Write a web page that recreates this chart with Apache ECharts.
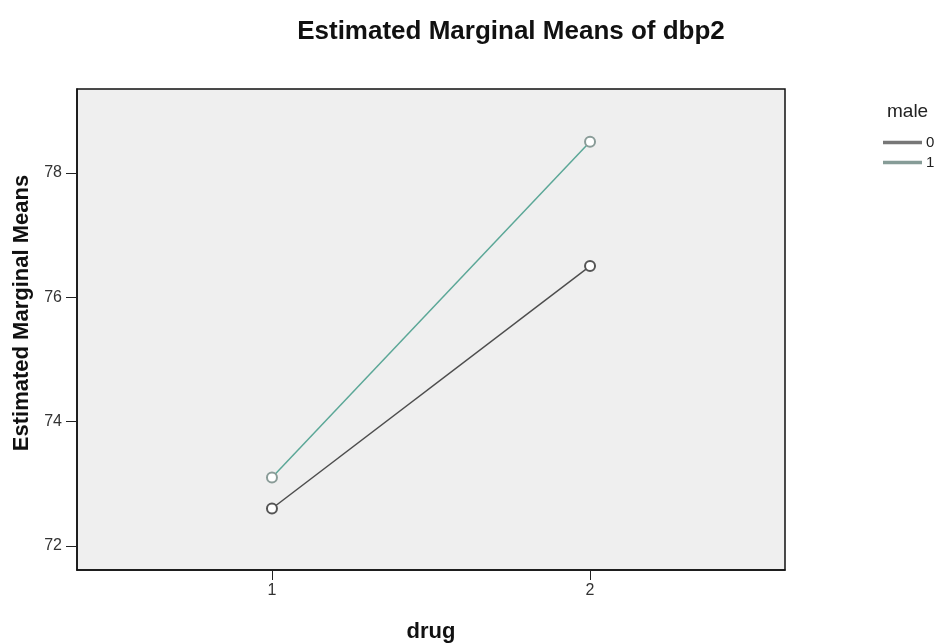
<!DOCTYPE html>
<html>
<head>
<meta charset="utf-8">
<script src="https://cdn.jsdelivr.net/npm/echarts@6/dist/echarts.min.js"></script>
<style>
  html, body { margin: 0; padding: 0; background: #fff; }
  #main { width: 936px; height: 643px; }
</style>
</head>
<body>
<div id="main"></div>
<script>
// data
var drugLevels = [1, 2];
var maleGroups = ['0', '1'];
var male0 = [72.6, 76.5];
var male1 = [73.1, 78.5];
var yTicks = [72, 74, 76, 78];

var chart = echarts.init(document.getElementById('main'));

function pairs(vals) {
    return drugLevels.map(function (d, i) { return [d, vals[i]]; });
}

var option = {
    backgroundColor: '#ffffff',
    title: {
        text: 'Estimated Marginal Means of dbp2',
        left: 506,
        top: 14,
        textAlign: 'center',
        textStyle: { fontFamily: 'Liberation Sans', fontWeight: 'bold', fontSize: 26, color: '#111' }
    },
    legend: {
        data: maleGroups,
        orient: 'vertical',
        left: 883,
        top: 135,
        padding: 0,
        icon: 'rect',
        itemWidth: 37,
        itemHeight: 1.5,
        itemGap: 5,
        textStyle: { fontFamily: 'Liberation Sans', fontSize: 15, color: '#222' }
    },
    graphic: [
        {
            type: 'text',
            left: 887,
            top: 102,
            style: { text: 'male', font: '19px "Liberation Sans"', fill: '#222' }
        },
        {
            type: 'text',
            x: 22,
            y: 313,
            rotation: Math.PI / 2,
            style: {
                text: 'Estimated Marginal Means',
                font: 'bold 22px "Liberation Sans"',
                fill: '#111',
                align: 'center',
                verticalAlign: 'middle'
            }
        }
    ],
    grid: {
        left: 77, top: 89, right: 151, bottom: 73,
        outerBoundsMode: 'none',
        containLabel: false,
        show: true,
        backgroundColor: '#efefef',
        borderColor: '#111',
        borderWidth: 1.5
    },
    xAxis: {
        type: 'value',
        min: 0.387,
        max: 2.613,
        name: 'drug',
        nameLocation: 'middle',
        nameGap: 51,
        nameTextStyle: { fontFamily: 'Liberation Sans', fontWeight: 'bold', fontSize: 22, color: '#111' },
        axisLine: { show: true, lineStyle: { color: '#111', width: 1.5 } },
        axisTick: { show: true, length: 10, customValues: drugLevels, lineStyle: { color: '#222' } },
        axisLabel: { customValues: drugLevels, color: '#333', fontFamily: 'Liberation Sans', fontSize: 16, margin: 13 },
        splitLine: { show: false }
    },
    yAxis: {
        type: 'value',
        min: 71.61,
        max: 79.35,
        axisLine: { show: true, lineStyle: { color: '#111', width: 1.5 } },
        axisTick: { show: true, length: 11, customValues: yTicks, lineStyle: { color: '#222' } },
        axisLabel: { customValues: yTicks, color: '#333', fontFamily: 'Liberation Sans', fontSize: 16, margin: 15 },
        splitLine: { show: false }
    },
    series: [
        {
            name: maleGroups[0],
            type: 'line',
            data: pairs(male0),
            symbol: 'emptyCircle',
            symbolSize: 10,
            lineStyle: { color: '#4d4d4d', width: 1.5 },
            itemStyle: { color: '#555', borderColor: '#777', borderWidth: 1.3 },
            color: '#555'
        },
        {
            name: maleGroups[1],
            type: 'line',
            data: pairs(male1),
            symbol: 'emptyCircle',
            symbolSize: 10,
            lineStyle: { color: '#5ba797', width: 1.5 },
            itemStyle: { color: '#8a9c98', borderColor: '#869c97', borderWidth: 1.3 },
            color: '#8a9c98'
        }
    ]
};

chart.setOption(option);
</script>
</body>
</html>
